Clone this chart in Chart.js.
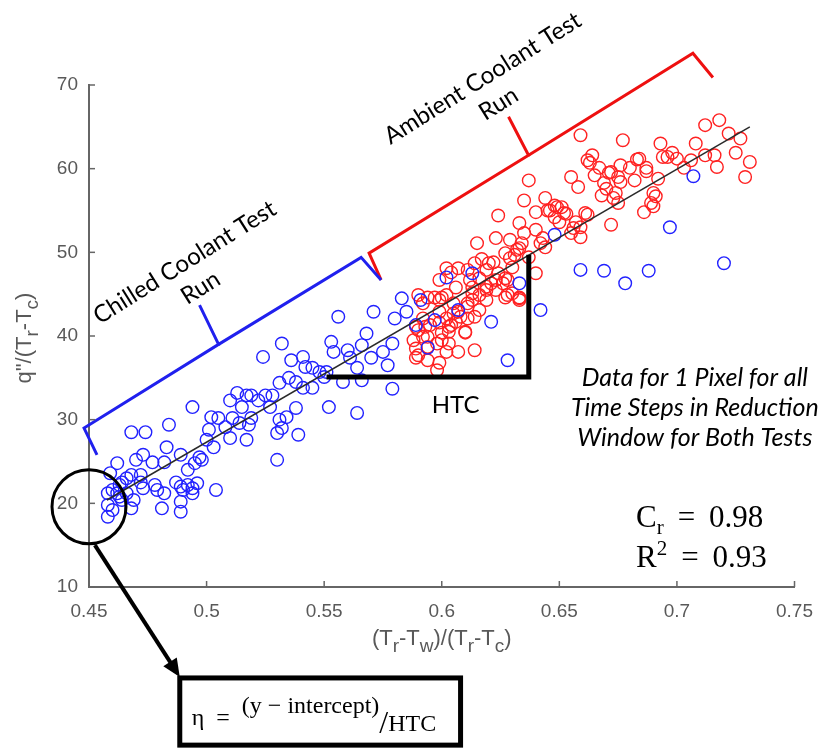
<!DOCTYPE html>
<html>
<head>
<meta charset="utf-8">
<script src="https://cdn.jsdelivr.net/npm/chart.js@4.4.1/dist/chart.umd.min.js"></script>
<style>
  html, body { margin: 0; background: #fff; }
  #wrap { position: relative; width: 826px; height: 749px; }
</style>
</head>
<body>
<div id="wrap"><canvas id="chart"></canvas></div>
<script>
/******************************************************************
DATA
******************************************************************/
var xTicks = [0.45, 0.5, 0.55, 0.6, 0.65, 0.7, 0.75];
var yTicks = [10, 20, 30, 40, 50, 60, 70];

// chilled coolant run (blue)
var chilled = [
  [0.556,42.3],[0.571,42.9],[0.580,42.1],[0.585,42.9],[0.553,39.3],[0.554,38.1],[0.560,38.3],[0.568,40.3],
  [0.566,38.9],[0.579,39.1],[0.575,38.1],[0.561,37.4],[0.570,37.4],[0.564,36.2],[0.577,36.5],[0.558,34.5],
  [0.566,34.7],[0.579,33.7],[0.552,31.5],[0.564,30.8],[0.532,39.1],[0.524,37.5],[0.536,37.1],[0.541,37.5],
  [0.542,36.3],[0.545,36.2],[0.548,35.7],[0.550,35.1],[0.551,35.7],[0.535,35.0],[0.538,34.5],[0.531,34.4],
  [0.541,33.8],[0.545,33.8],[0.528,32.9],[0.525,32.9],[0.519,32.9],[0.517,32.9],[0.513,33.2],[0.510,32.3],
  [0.515,31.5],[0.522,32.3],[0.527,31.5],[0.538,31.4],[0.534,30.3],[0.531,30.0],[0.502,30.3],[0.505,30.2],
  [0.511,30.2],[0.514,29.6],[0.519,30.2],[0.518,29.4],[0.508,29.1],[0.501,28.8],[0.500,27.6],[0.510,27.8],
  [0.517,27.6],[0.503,26.7],[0.530,28.4],[0.532,29.0],[0.539,28.2],[0.530,25.2],[0.494,31.5],[0.484,29.4],
  [0.468,28.5],[0.474,28.5],[0.483,26.7],[0.473,25.8],[0.470,25.2],[0.477,24.9],[0.482,24.9],[0.489,25.8],
  [0.497,25.5],[0.498,25.2],[0.495,24.8],[0.492,24.0],[0.462,24.8],[0.459,23.6],[0.466,23.0],[0.468,23.4],
  [0.472,23.4],[0.464,22.5],[0.473,21.8],[0.478,22.2],[0.479,21.6],[0.482,21.2],[0.487,22.5],[0.492,22.2],
  [0.494,21.8],[0.489,22.0],[0.494,21.2],[0.490,21.6],[0.496,22.4],[0.504,21.6],[0.481,19.4],[0.489,19.0],
  [0.489,20.2],[0.468,19.4],[0.469,20.4],[0.463,20.8],[0.460,21.6],[0.458,19.8],[0.460,19.2],[0.458,18.4],
  [0.464,20.4],[0.462,21.2],[0.466,21.2],[0.463,22.2],[0.458,21.2],[0.472,22.5],[0.602,47.0],[0.613,47.5],
  [0.633,46.3],[0.583,44.5],[0.591,44.3],[0.607,43.1],[0.597,41.9],[0.589,41.3],[0.621,41.7],[0.594,38.6],
  [0.628,37.1],[0.648,52.1],[0.659,47.9],[0.642,43.1],[0.707,59.1],[0.697,53.0],[0.669,47.8],[0.678,46.3],
  [0.688,47.8],[0.720,48.7]
];

// ambient coolant run (red)
var ambient = [
  [0.718,65.8],[0.712,65.2],[0.659,64.0],[0.677,63.4],[0.693,63.0],[0.708,63.0],[0.722,64.2],[0.727,63.6],
  [0.725,61.9],[0.731,60.8],[0.729,59.0],[0.716,61.6],[0.717,60.2],[0.712,61.6],[0.706,61.0],[0.703,60.1],
  [0.700,61.2],[0.696,61.4],[0.698,61.9],[0.664,61.6],[0.662,61.0],[0.667,60.1],[0.684,61.2],[0.680,60.1],
  [0.676,60.4],[0.672,59.6],[0.687,60.1],[0.655,59.0],[0.658,57.8],[0.665,59.2],[0.669,58.3],[0.676,58.4],
  [0.675,59.0],[0.682,58.6],[0.692,58.8],[0.690,57.1],[0.689,55.9],[0.686,54.8],[0.668,56.8],[0.674,57.1],
  [0.675,55.9],[0.672,53.3],[0.637,58.6],[0.635,56.2],[0.644,56.5],[0.648,55.6],[0.651,55.4],[0.646,55.0],
  [0.652,54.7],[0.640,54.8],[0.624,54.4],[0.648,54.2],[0.650,53.6],[0.657,53.6],[0.661,54.7],[0.659,53.0],
  [0.655,52.3],[0.659,51.8],[0.633,53.5],[0.635,52.3],[0.640,52.7],[0.643,51.7],[0.644,50.6],[0.642,51.1],
  [0.623,51.7],[0.629,51.5],[0.632,50.3],[0.634,51.1],[0.615,51.1],[0.637,49.4],[0.640,47.5],[0.629,49.3],
  [0.627,49.9],[0.630,48.2],[0.622,48.8],[0.614,48.7],[0.607,48.1],[0.602,48.1],[0.624,47.5],[0.619,47.9],
  [0.616,46.9],[0.621,46.3],[0.627,46.9],[0.623,45.5],[0.619,45.5],[0.613,45.8],[0.606,45.8],[0.600,44.6],
  [0.597,44.6],[0.594,44.6],[0.592,43.9],[0.613,44.3],[0.619,44.3],[0.627,44.6],[0.630,45.1],[0.633,44.6],
  [0.611,43.5],[0.608,42.3],[0.606,41.7],[0.610,40.4],[0.603,41.1],[0.599,41.6],[0.593,41.1],[0.590,40.7],
  [0.592,39.9],[0.590,44.9],[0.599,44.3],[0.605,43.9],[0.616,44.9],[0.619,45.9],[0.623,46.7],[0.626,46.3],
  [0.633,44.5],[0.599,42.9],[0.602,42.1],[0.605,42.7],[0.611,42.1],[0.614,42.3],[0.592,42.1],[0.589,41.1],
  [0.595,41.3],[0.604,41.3],[0.603,40.5],[0.600,40.4],[0.594,39.9],[0.610,40.5],[0.600,39.5],[0.603,39.1],
  [0.588,39.5],[0.589,38.5],[0.594,38.7],[0.598,39.1],[0.602,38.1],[0.607,38.1],[0.614,38.3],[0.590,37.7],
  [0.594,37.1],[0.599,36.8],[0.589,37.4],[0.598,35.9],[0.645,55.0],[0.620,48.7],[0.631,49.7],[0.633,50.5],
  [0.604,47.6],[0.599,46.7],[0.612,46.7],[0.628,46.7],[0.628,44.9],[0.613,45.1],[0.602,44.9],[0.611,43.9],
  [0.616,43.1],[0.607,42.9],[0.633,44.3],[0.617,49.2],[0.611,47.9],[0.694,61.4],[0.683,61.1],[0.671,59.5],
  [0.663,60.7],[0.687,59.7],[0.691,56.7],[0.690,55.5],[0.673,56.5],[0.670,57.6],[0.649,55.4],[0.653,54.6],
  [0.662,54.5],[0.656,52.9]
];

// linear fit and HTC slope triangle
var fitLine = [[0.4576, 20.4], [0.731, 65.0]];
var htcTriangle = [[0.551, 35.1], [0.637, 35.1], [0.637, 49.7]];

// braces over the two runs
var chilledBraceA = [[0.4534, 25.8], [0.4479, 29.0], [0.5051, 39.0], [0.4970, 43.7]];
var chilledBraceB = [[0.5051, 39.0], [0.5657, 49.4], [0.5742, 46.7]];
var ambientBraceA = [[0.5742, 46.7], [0.5691, 49.9], [0.6369, 61.6], [0.6284, 66.2]];
var ambientBraceB = [[0.6369, 61.6], [0.7068, 73.8], [0.7153, 70.9]];

function pts(arr) {
  return arr.map(function (p) { return { x: p[0], y: p[1] }; });
}

/******************************************************************
TEXT HELPERS
******************************************************************/
var GRAY = '#595959';
var SANS = '"Liberation Sans", Arial, sans-serif';
var CAL = 'Lato, "Open Sans", sans-serif';
var SERIF = '"Liberation Serif", "DejaVu Serif", serif';

function drawRuns(ctx, runs, x, y, align) {
  var w = 0;
  runs.forEach(function (r) {
    ctx.font = r.font;
    r.w = ctx.measureText(r.t).width;
    w += r.w;
  });
  var cx = align === 'center' ? x - w / 2 : x;
  ctx.textAlign = 'left';
  runs.forEach(function (r) {
    ctx.font = r.font;
    ctx.fillText(r.t, cx, y + (r.dy || 0));
    cx += r.w;
  });
}

function subRuns(list, main, sub) {
  return list.map(function (p) {
    return p[1] ? { t: p[0], font: sub, dy: 8 } : { t: p[0], font: main };
  });
}

/******************************************************************
ANNOTATION PLUGIN
******************************************************************/
var annotations = {
  id: 'annotations',
  afterDraw: function (chart) {
    var ctx = chart.ctx;
    var xs = chart.scales.x, ys = chart.scales.y, area = chart.chartArea;
    function X(v) { return xs.getPixelForValue(v); }
    function Y(v) { return ys.getPixelForValue(v); }

    ctx.save();

    // inward tick marks
    ctx.strokeStyle = '#666';
    ctx.lineWidth = 1.5;
    xTicks.forEach(function (t) {
      ctx.beginPath(); ctx.moveTo(X(t), area.bottom); ctx.lineTo(X(t), area.bottom - 6); ctx.stroke();
    });
    yTicks.forEach(function (t) {
      ctx.beginPath(); ctx.moveTo(area.left, Y(t)); ctx.lineTo(area.left + 6, Y(t)); ctx.stroke();
    });

    // axis titles
    ctx.fillStyle = GRAY;
    ctx.textBaseline = 'middle';
    var mainF = '22px ' + SANS, subF = '19px ' + SANS;
    drawRuns(ctx, subRuns([['(T', 0], ['r', 1], ['-T', 0], ['w', 1], [')/(T', 0], ['r', 1], ['-T', 0], ['c', 1], [')', 0]], mainF, subF),
      X(0.6), area.bottom + 52, 'center');
    ctx.save();
    ctx.translate(25, (area.top + area.bottom) / 2 + 2);
    ctx.rotate(-Math.PI / 2);
    drawRuns(ctx, subRuns([['q"/(T', 0], ['r', 1], ['-T', 0], ['c', 1], [')', 0]], mainF, subF), 0, 0, 'center');
    ctx.restore();

    // rotated brace labels
    ctx.fillStyle = '#000';
    ctx.font = '24px ' + CAL;
    ctx.textAlign = 'center';
    [[0.4907, 48.8, 'Chilled Coolant Test'], [0.6174, 70.8, 'Ambient Coolant Test']].forEach(function (l) {
      ctx.save();
      ctx.translate(X(l[0]), Y(l[1]));
      ctx.rotate(-32 * Math.PI / 180);
      ctx.fillText(l[2], 0, 0);
      ctx.fillText('Run', 0, 30);
      ctx.restore();
    });

    // HTC label
    ctx.font = '24px ' + CAL;
    ctx.fillText('HTC', X(0.6059), Y(31.7));

    // italic note
    ctx.font = 'italic 25px ' + CAL;
    ctx.fillText('Data for 1 Pixel for all', X(0.7076), Y(35.0));
    ctx.fillText('Time Steps in Reduction', X(0.7076), Y(31.4));
    ctx.fillText('Window for Both Tests', X(0.7076), Y(27.8));

    // statistics
    ctx.textBaseline = 'alphabetic';
    var big = '31px ' + SERIF, small = '21px ' + SERIF;
    drawRuns(ctx, [{ t: 'C', font: big }, { t: 'r', font: small, dy: 7 }, { t: ' \u2009=\u2009 0.98', font: big }], X(0.6826), Y(17.2), 'left');
    drawRuns(ctx, [{ t: 'R', font: big }, { t: '2', font: small, dy: -12 }, { t: ' \u2009=\u2009 0.93', font: big }], X(0.6826), Y(12.4), 'left');

    // circle on intercept
    ctx.strokeStyle = '#000';
    ctx.lineWidth = 3;
    ctx.beginPath();
    ctx.arc(X(0.45), Y(19.6), 37, 0, Math.PI * 2);
    ctx.stroke();

    // arrow to formula box
    var x0 = X(0.4525), y0 = Y(15.0), x1 = X(0.4886), y1 = Y(-0.75);
    var ang = Math.atan2(y1 - y0, x1 - x0);
    ctx.lineWidth = 4;
    ctx.beginPath();
    ctx.moveTo(x0, y0);
    ctx.lineTo(x1 - 14 * Math.cos(ang), y1 - 14 * Math.sin(ang));
    ctx.stroke();
    ctx.fillStyle = '#000';
    ctx.beginPath();
    ctx.moveTo(x1, y1);
    ctx.lineTo(x1 - 18 * Math.cos(ang) + 8 * Math.sin(ang), y1 - 18 * Math.sin(ang) - 8 * Math.cos(ang));
    ctx.lineTo(x1 - 18 * Math.cos(ang) - 8 * Math.sin(ang), y1 - 18 * Math.sin(ang) + 8 * Math.cos(ang));
    ctx.closePath();
    ctx.fill();

    // formula box
    var bx0 = X(0.4886), by0 = Y(-0.87), bx1 = X(0.608), by1 = Y(-8.9);
    ctx.lineWidth = 5;
    ctx.strokeRect(bx0, by0, bx1 - bx0, by1 - by0);
    var f = '24px ' + SERIF;
    drawRuns(ctx, [
      { t: '\u03b7  =  ', font: f },
      { t: '(y \u2212 intercept)', font: f, dy: -12 },
      { t: '/', font: '32px ' + SERIF, dy: 8 },
      { t: 'HTC', font: f, dy: 6 }
    ], bx0 + 12, by0 + 47, 'left');

    ctx.restore();
  }
};

/******************************************************************
CHART
******************************************************************/
function lineSet(arr, color, width) {
  return {
    data: pts(arr), showLine: true, pointRadius: 0, borderColor: color,
    borderWidth: width, borderJoinStyle: 'miter', clip: false
  };
}

new Chart(document.getElementById('chart'), {
  type: 'scatter',
  data: {
    datasets: [
      lineSet(htcTriangle, '#000', 5),
      lineSet(fitLine, '#2a2a2a', 1.5),
      lineSet(chilledBraceA, '#2020ee', 3),
      lineSet(chilledBraceB, '#2020ee', 3),
      lineSet(ambientBraceA, '#ee1010', 3),
      lineSet(ambientBraceB, '#ee1010', 3),
      {
        data: pts(chilled), pointRadius: 6.3, pointBorderWidth: 1.4,
        borderColor: '#2222ff', backgroundColor: 'rgba(0,0,0,0)'
      },
      {
        data: pts(ambient), pointRadius: 6.3, pointBorderWidth: 1.4,
        borderColor: '#ff2222', backgroundColor: 'rgba(0,0,0,0)'
      }
    ]
  },
  options: {
    responsive: true,
    maintainAspectRatio: false,
    animation: false,
    events: [],
    layout: { padding: { top: 85, right: 27, left: 0, bottom: 0 } },
    plugins: { legend: { display: false }, tooltip: { enabled: false } },
    scales: {
      x: {
        type: 'linear', min: 0.45, max: 0.75,
        afterBuildTicks: function (s) { s.ticks = xTicks.map(function (v) { return { value: v }; }); },
        afterFit: function (s) { s.height = 162; },
        grid: { display: true, drawOnChartArea: false, drawTicks: false },
        border: { display: true, color: '#666', width: 2 },
        ticks: {
          padding: 13, color: GRAY, maxRotation: 0,
          font: { family: SANS, size: 19 },
          callback: function (v) { return String(+v.toFixed(2)); }
        }
      },
      y: {
        type: 'linear', min: 10, max: 70,
        afterBuildTicks: function (s) { s.ticks = yTicks.map(function (v) { return { value: v }; }); },
        afterFit: function (s) { s.width = 89; },
        grid: { display: true, drawOnChartArea: false, drawTicks: false },
        border: { display: true, color: '#666', width: 2 },
        ticks: { padding: 11, color: GRAY, font: { family: SANS, size: 19 } }
      }
    }
  },
  plugins: [annotations]
});
</script>
</body>
</html>
